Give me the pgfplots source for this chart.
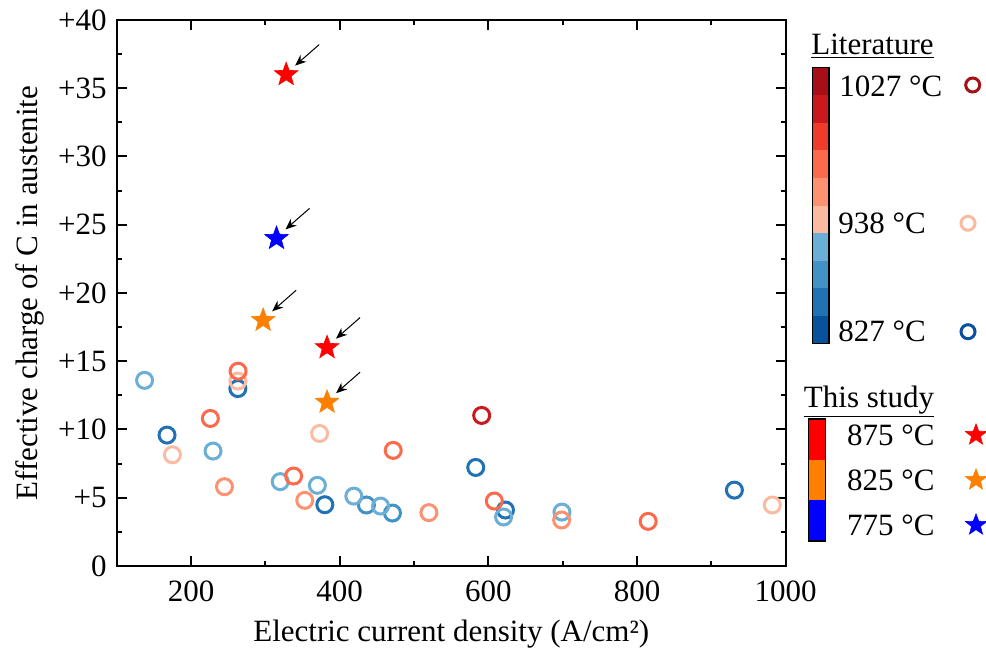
\documentclass[border=0pt]{standalone}
\usepackage{fontspec}
\setmainfont{Liberation Serif}
\usepackage{pgfplots}
\pgfplotsset{compat=1.18}
\usetikzlibrary{arrows.meta}
\definecolor{cA}{RGB}{8,81,156}
\definecolor{cB}{RGB}{33,113,181}
\definecolor{cC}{RGB}{66,146,198}
\definecolor{cD}{RGB}{107,174,214}
\definecolor{cE}{RGB}{252,187,161}
\definecolor{cF}{RGB}{252,146,114}
\definecolor{cG}{RGB}{251,106,74}
\definecolor{cH}{RGB}{239,59,44}
\definecolor{cI}{RGB}{203,24,29}
\definecolor{cJ}{RGB}{165,15,21}
\definecolor{sR}{RGB}{255,0,0}
\definecolor{sO}{RGB}{255,128,0}
\definecolor{sB}{RGB}{0,0,255}
\pgfdeclareplotmark{pstar}{%
  \pgfpathmoveto{\pgfpointpolar{90}{\pgfplotmarksize}}%
  \pgfpathlineto{\pgfpointpolar{126}{0.42\pgfplotmarksize}}%
  \pgfpathlineto{\pgfpointpolar{162}{\pgfplotmarksize}}%
  \pgfpathlineto{\pgfpointpolar{198}{0.42\pgfplotmarksize}}%
  \pgfpathlineto{\pgfpointpolar{234}{\pgfplotmarksize}}%
  \pgfpathlineto{\pgfpointpolar{270}{0.42\pgfplotmarksize}}%
  \pgfpathlineto{\pgfpointpolar{306}{\pgfplotmarksize}}%
  \pgfpathlineto{\pgfpointpolar{342}{0.42\pgfplotmarksize}}%
  \pgfpathlineto{\pgfpointpolar{18}{\pgfplotmarksize}}%
  \pgfpathlineto{\pgfpointpolar{54}{0.42\pgfplotmarksize}}%
  \pgfpathclose\pgfusepathqfillstroke}
\begin{document}
\begin{tikzpicture}[font=\fontsize{15.5}{18}\selectfont]
\useasboundingbox (0,0) rectangle (493pt,-325.5pt);
\begin{axis}[
  at={(58.35pt,-283pt)}, anchor=south west,
  scale only axis, width=334.5pt, height=273pt,
  xmin=100, xmax=1000, ymin=0, ymax=40,
  xtick={200,400,600,800,1000}, xticklabels={200,400,600,800,1000},
  minor xtick={300,500,700,900},
  ytick={0,5,10,15,20,25,30,35,40},
  yticklabels={0,+5,+10,+15,+20,+25,+30,+35,+40},
  minor ytick={2.5,7.5,12.5,17.5,22.5,27.5,32.5,37.5},
  tick align=inside, major tick length=5pt, minor tick length=2.5pt,
  every tick/.style={black, line width=1pt},
  axis line style={line width=1pt},
  xticklabel shift=4pt, yticklabel shift=1.5pt,
  xlabel shift=2pt, ylabel shift=0pt,
  xlabel={Electric current density (A/cm²)},
  ylabel={Effective charge of C in austenite},
  clip=false,
  circ/.style={only marks, mark=o, mark size=4pt, mark options={line width=1.5pt}},
  st/.style={only marks, mark=pstar, mark size=6.2pt, mark options={line width=0.3pt}},
]
\addplot[circ, color=cB] coordinates {(263,13.0) (167.7,9.59) (380,4.49) (583,7.22) (623,4.10) (931,5.56)};
\addplot[circ, color=cC] coordinates {(436,4.47) (471,3.88)};
\addplot[circ, color=cD] coordinates {(137.5,13.6) (229.6,8.42) (320,6.18) (370,5.91) (419,5.12) (455,4.39) (620.5,3.59) (699,3.95)};
\addplot[circ, color=cE] coordinates {(263,13.55) (175,8.15) (373,9.71) (982,4.47)};
\addplot[circ, color=cF] coordinates {(245,5.81) (353,4.81) (520,3.91) (698.6,3.37)};
\addplot[circ, color=cG] coordinates {(263.3,14.27) (226,10.81) (338,6.59) (472,8.47) (608,4.76) (815,3.27)};
\addplot[circ, color=cI] coordinates {(591,11.03)};
\addplot[st, color=sR, fill=sR] coordinates {(328,36) (383,16)};
\addplot[st, color=sO, fill=sO] coordinates {(297,18) (383,12)};
\addplot[st, color=sB, fill=sB] coordinates {(315,24)};
\foreach \px/\py in {328/36, 383/16, 297/18, 383/12, 315/24}{
  \edef\temp{\noexpand\draw[-{Stealth[length=5.5pt,width=4.5pt]}, line width=0.5pt, black]
    ([shift={(16.5pt,15pt)}]axis cs:\px,\py) -- ([shift={(4.5pt,4.5pt)}]axis cs:\px,\py);}
  \temp
}
\end{axis}
\begin{axis}[
  at={(0pt,0pt)}, anchor=north west,
  scale only axis, width=493pt, height=325.5pt,
  xmin=0, xmax=986, ymin=0, ymax=651, y dir=reverse,
  hide axis, clip=false,
  circ/.style={only marks, mark=o, mark size=3.5pt, mark options={line width=1.5pt}},
  st/.style={only marks, mark=pstar, mark size=5.6pt, mark options={line width=0.3pt}},
]
\fill[cA] (axis cs:812.3,343.3) rectangle (axis cs:829,315.7);
\fill[cB] (axis cs:812.3,315.7) rectangle (axis cs:829,288.2);
\fill[cC] (axis cs:812.3,288.2) rectangle (axis cs:829,260.6);
\fill[cD] (axis cs:812.3,260.6) rectangle (axis cs:829,233.1);
\fill[cE] (axis cs:812.3,233.1) rectangle (axis cs:829,205.5);
\fill[cF] (axis cs:812.3,205.5) rectangle (axis cs:829,177.9);
\fill[cG] (axis cs:812.3,177.9) rectangle (axis cs:829,150.4);
\fill[cH] (axis cs:812.3,150.4) rectangle (axis cs:829,122.8);
\fill[cI] (axis cs:812.3,122.8) rectangle (axis cs:829,95.3);
\fill[cJ] (axis cs:812.3,95.3) rectangle (axis cs:829,67.7);
\draw[line width=0.6pt] (axis cs:812.3,67.7) rectangle (axis cs:829,343.3);
\fill[sR] (axis cs:808.3,419) rectangle (axis cs:825.7,459.7);
\fill[sO] (axis cs:808.3,459.7) rectangle (axis cs:825.7,500.3);
\fill[sB] (axis cs:808.3,500.3) rectangle (axis cs:825.7,541);
\draw[line width=0.6pt] (axis cs:808.3,419) rectangle (axis cs:825.7,541);
\node[anchor=base] at (axis cs:872.5,54.3) {\underline{Literature}};
\node[anchor=base] at (axis cs:869,407.3) {\underline{This study}};
\node[anchor=west, inner sep=0pt] at (axis cs:839,86) {1027 °C};
\node[anchor=west, inner sep=0pt] at (axis cs:838,223.3) {938 °C};
\node[anchor=west, inner sep=0pt] at (axis cs:838,331.7) {827 °C};
\node[anchor=west, inner sep=0pt] at (axis cs:846.7,435) {875 °C};
\node[anchor=west, inner sep=0pt] at (axis cs:846.7,480) {825 °C};
\node[anchor=west, inner sep=0pt] at (axis cs:846.7,525) {775 °C};
\addplot[circ, color=cJ] coordinates {(972.7,85)};
\addplot[circ, color=cE] coordinates {(968,223.3)};
\addplot[circ, color=cA] coordinates {(968,331.7)};
\addplot[st, color=sR, fill=sR] coordinates {(976,435)};
\addplot[st, color=sO, fill=sO] coordinates {(976,480)};
\addplot[st, color=sB, fill=sB] coordinates {(976,525)};
\end{axis}
\end{tikzpicture}
\end{document}
